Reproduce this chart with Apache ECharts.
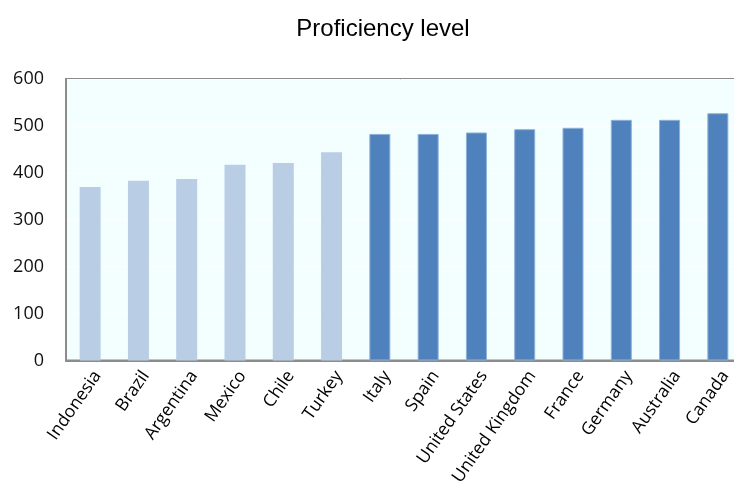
<!DOCTYPE html>
<html>
<head>
<meta charset="utf-8">
<script src="https://cdn.jsdelivr.net/npm/echarts@6/dist/echarts.min.js"></script>
<style>
  html, body { margin: 0; padding: 0; background: #ffffff; }
  #chart { width: 734px; height: 493px; }
</style>
</head>
<body>
<div id="chart"></div>
<script>
// Countries ordered by score
const countries = ['Indonesia', 'Brazil', 'Argentina', 'Mexico', 'Chile', 'Turkey', 'Italy',
  'Spain', 'United States', 'United Kingdom', 'France', 'Germany', 'Australia', 'Canada'];
// Mean proficiency score per country
const scores = [370, 383, 387, 417, 421, 444, 483, 483, 486, 493, 496, 513, 513, 527];
// Country group: 'low' = lighter shade, 'high' = darker shade
const tiers = ['low', 'low', 'low', 'low', 'low', 'low', 'high',
  'high', 'high', 'high', 'high', 'high', 'high', 'high'];
// Value axis ticks
const yTicks = { min: 0, max: 600, step: 100 };

const tierStyle = {
  low:  { color: '#b9cde5' },
  high: { color: '#4f81bd', borderColor: '#8db0da', borderWidth: 1 }
};

const chart = echarts.init(document.getElementById('chart'), null, { renderer: 'canvas' });
chart.setOption({
  animation: false,
  backgroundColor: '#ffffff',
  title: {
    text: 'Proficiency level',
    left: 378,
    top: 12,
    textAlign: 'center',
    textStyle: { fontFamily: 'Liberation Sans', fontSize: 24, fontWeight: 'normal', color: '#000' }
  },
  grid: {
    left: 66, top: 79, width: 676, height: 281.5,
    outerBoundsMode: 'none',
    show: true, backgroundColor: '#f3ffff', borderColor: '#8c8c8c', borderWidth: 2,
    containLabel: false
  },
  xAxis: {
    type: 'category',
    data: countries,
    axisLine: { lineStyle: { color: '#8c8c8c', width: 2 } },
    axisTick: { show: false },
    axisLabel: {
      interval: 0, rotate: 55, margin: 7, verticalAlign: 'top',
      fontFamily: 'Open Sans', fontSize: 17.5, color: '#000'
    }
  },
  yAxis: {
    type: 'value',
    min: yTicks.min, max: yTicks.max, interval: yTicks.step,
    axisLine: { show: true, lineStyle: { color: '#8c8c8c', width: 2 } },
    axisTick: { show: false },
    splitLine: { lineStyle: { color: '#fbffff', width: 1 } },
    axisLabel: { margin: 22, fontFamily: 'Open Sans', fontSize: 18, color: '#111' }
  },
  series: [{
    type: 'bar',
    barWidth: 21,
    data: scores.map((v, i) => ({ value: v, itemStyle: tierStyle[tiers[i]] }))
  }]
});
</script>
</body>
</html>
